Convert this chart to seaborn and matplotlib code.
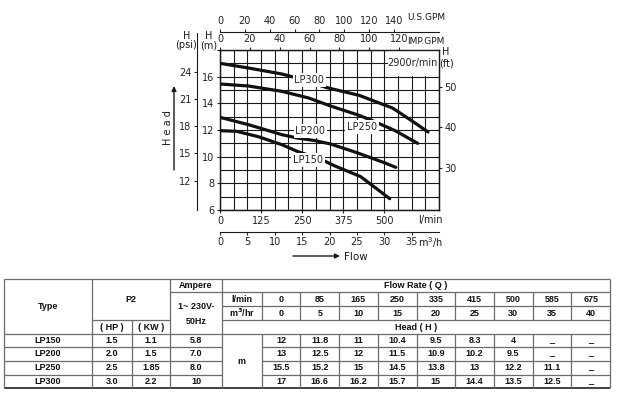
from matplotlib import pyplot as plt
from matplotlib.patches import Rectangle
import numpy as np
import pandas as pd
import seaborn as sns

# ------------------------------------------------
# ----- Curvas (m3/h, m) ----
# ------------------------------------------------
models = ['LP150', 'LP200', 'LP250', 'LP300']
lp150_q = [0, 3, 7, 11.3, 14.1, 18.7, 21, 25.7, 31.0]
lp150_h = [11.95, 11.9, 11.5, 10.9, 10.4, 9.75, 9.3, 8.5, 6.85]
lp200_q = [0, 5.2, 11.3, 14.1, 17.4, 20.2, 25, 30, 32.1]
lp200_h = [12.95, 12.4, 11.65, 11.4, 11.2, 10.95, 10.3, 9.55, 9.2]
lp250_q = [0, 5.2, 11.3, 16.2, 20.2, 25.4, 28.4, 32, 36.1]
lp250_h = [15.45, 15.3, 14.9, 14.4, 13.8, 13.1, 12.6, 11.95, 11.0]
lp300_q = [0, 5.2, 11.3, 14.1, 19.3, 25.4, 31.5, 35, 38.0]
lp300_h = [17.0, 16.65, 16.2, 15.9, 15.2, 14.6, 13.65, 12.7, 11.85]

# posiciones de las etiquetas de cada curva
label_q = [16.1, 16.5, 25.9, 16.3]
label_h = [9.75, 11.93, 12.23, 15.75]

# ejes
lmin_ticks = [0, 125, 250, 375, 500]
m3h_ticks = [0, 5, 10, 15, 20, 25, 30, 35]
usgpm_ticks = [0, 20, 40, 60, 80, 100, 120, 140]
impgpm_ticks = [0, 20, 40, 60, 80, 100, 120]
m_ticks = [6, 8, 10, 12, 14, 16, 18]
psi_ticks = [12, 15, 18, 21, 24]
ft_ticks = [30, 40, 50]

# ------------------------------------------------
# ----- Tabla ------------------------------------
# ------------------------------------------------
tab_lmin = ['0', '85', '165', '250', '335', '415', '500', '585', '675']
tab_m3hr = ['0', '5', '10', '15', '20', '25', '30', '35', '40']
tab_hp = ['1.5', '2.0', '2.5', '3.0']
tab_kw = ['1.1', '1.5', '1.85', '2.2']
tab_amp = ['5.8', '7.0', '8.0', '10']
tab_head = [['12', '11.8', '11', '10.4', '9.5', '8.3', '4', '_', '_'],
            ['13', '12.5', '12', '11.5', '10.9', '10.2', '9.5', '_', '_'],
            ['15.5', '15.2', '15', '14.5', '13.8', '13', '12.2', '11.1', '_'],
            ['17', '16.6', '16.2', '15.7', '15', '14.4', '13.5', '12.5', '_']]

# ------------------------------------------------
# ----- Estilo -----------------------------------
# ------------------------------------------------
sns.set_style('ticks')
plt.rcParams['font.family'] = ['Liberation Sans Narrow', 'DejaVu Sans']
plt.rcParams['xtick.labelsize'] = 7
plt.rcParams['ytick.labelsize'] = 7
plt.rcParams['xtick.major.size'] = 2.5
plt.rcParams['ytick.major.size'] = 2.5
plt.rcParams['xtick.major.pad'] = 1.5
plt.rcParams['ytick.major.pad'] = 1.5
plt.rcParams['xtick.color'] = '#222222'
plt.rcParams['ytick.color'] = '#222222'

W, H = 619, 400
fig = plt.figure(figsize=(W / 100, H / 100), dpi=100)


def px(x, y):
    return x / W, 1 - y / H


# ------------------------------------------------
# ----- Tabla (en coordenadas de pixel) ----------
# ------------------------------------------------
tab = fig.add_axes([0, 0, 1, 1])
tab.set_xlim(0, W)
tab.set_ylim(H, 0)
tab.axis('off')

rows = [279, 292.3, 306, 320, 334, 347.3, 360.7, 375, 388.3]
fc = np.linspace(261.7, 610, 10)
lc = '#6b6b6b'
lw = 0.9


def hline(y, x0, x1, w=lw, c=lc):
    tab.plot([x0, x1], [y, y], color=c, lw=w, solid_capstyle='butt')


def vline(x, y0, y1, w=lw, c=lc):
    tab.plot([x, x], [y0, y1], color=c, lw=w, solid_capstyle='butt')


hline(rows[0], 4, 610)
hline(rows[1], 170, 610)
hline(rows[2], 221.7, 610)
hline(rows[3], 92.3, 170)
hline(rows[3], 221.7, 610)
hline(rows[4], 4, 610)
for y in rows[5:8]:
    hline(y, 4, 221.7)
    hline(y, 261.7, 610)
hline(rows[8], 4, 610, w=1.3, c='#333333')
for x in [4, 92.3, 170, 221.7, 610]:
    vline(x, rows[0], rows[8])
vline(131.7, rows[3], rows[8])
for x in fc[:-1]:
    vline(x, rows[1], rows[3])
    vline(x, rows[4], rows[8])

tk = dict(ha='center', va='center', fontsize=6.5, fontweight='bold',
          family=['Liberation Sans', 'DejaVu Sans'], color='#111111')
tab.text(48, 306.5, 'Type', **tk)
tab.text(131, 299.5, 'P2', **tk)
tab.text(112, 327, '( HP )', **tk)
tab.text(151, 327, '( KW )', **tk)
tab.text(196, 285.7, 'Ampere', **tk)
tab.text(196, 306.7, '1~ 230V-', **tk)
tab.text(196, 321, '50Hz', **tk)
tab.text(416, 285.7, 'Flow Rate ( Q )', **tk)
tab.text(416, 327, 'Head ( H )', **tk)
tab.text(241.7, 299, 'l/min', **tk)
tab.text(241.7, 313, 'm$\\mathbf{^3}$/hr', **tk)
tab.text(241.7, 361, 'm', **tk)
cc = (fc[:-1] + fc[1:]) / 2
for i in range(9):
    tab.text(cc[i], 299, tab_lmin[i], **tk)
    tab.text(cc[i], 313, tab_m3hr[i], **tk)
for r in range(4):
    yc = (rows[4 + r] + rows[5 + r]) / 2
    tab.text(48, yc, models[r], **tk)
    tab.text(112, yc, tab_hp[r], **tk)
    tab.text(151, yc, tab_kw[r], **tk)
    tab.text(196, yc, tab_amp[r], **tk)
    for i in range(9):
        tab.text(cc[i], yc, tab_head[r][i], **tk)

# ------------------------------------------------
# ----- Grafica de curvas ------------------------
# ------------------------------------------------
ax = fig.add_axes([220 / W, 1 - 210 / H, 219 / W, 160 / H])

df = pd.concat([
    pd.DataFrame({'model': 'LP150', 'flow': lp150_q, 'head': lp150_h}),
    pd.DataFrame({'model': 'LP200', 'flow': lp200_q, 'head': lp200_h}),
    pd.DataFrame({'model': 'LP250', 'flow': lp250_q, 'head': lp250_h}),
    pd.DataFrame({'model': 'LP300', 'flow': lp300_q, 'head': lp300_h}),
])
sns.lineplot(data=df, x='flow', y='head', hue='model', palette=['#111111'] * 4,
             legend=False, lw=2.3, ax=ax, zorder=3)

ax.set_xlim(0, 40)
ax.set_ylim(6, 18)
ax.set_xlabel('')
ax.set_ylabel('')
# cuadricula: 2.5 m3/h y 1 m
ax.set_xticks(np.arange(0, 40.1, 2.5))
ax.set_yticks(np.arange(6, 18.1, 1))
ax.tick_params(length=0, labelbottom=False, labelleft=False)
ax.grid(True, color='#1a1a1a', lw=0.8)
for s in ax.spines.values():
    s.set_color('#1a1a1a')
    s.set_linewidth(1.0)

for name, q, h in zip(models, label_q, label_h):
    ax.text(q, h, name, ha='center', va='center', fontsize=7, zorder=5,
            bbox=dict(facecolor='white', edgecolor='none', pad=1.2))

ax.add_patch(Rectangle((30.6, 16.05), 9.35, 1.9, facecolor='white',
                       edgecolor='none', zorder=2.5))
ax.text(35.1, 17.0, '2900r/min', ha='center', va='center', fontsize=7, zorder=5)

# l/min en el borde inferior
lmin = ax.secondary_xaxis('bottom', functions=(lambda x: x * 1000 / 60, lambda x: x * 60 / 1000))
lmin.set_xticks(lmin_ticks)

# H (m) en el borde izquierdo
hm = ax.secondary_yaxis('left')
hm.set_yticks(m_ticks)
hm.set_yticklabels([str(v) for v in m_ticks[:-1]] + [''])

# eje m3/h abajo
m3h = ax.secondary_xaxis(-0.136)
m3h.set_xticks(m3h_ticks)
m3h.spines['bottom'].set_color('#1a1a1a')

# ejes GPM arriba
imp = ax.secondary_xaxis('top', functions=(lambda x: x * 3.666, lambda x: x / 3.666))
imp.set_xticks(impgpm_ticks)
us = ax.secondary_xaxis(1.1125, functions=(lambda x: x * 4.403, lambda x: x / 4.403))
us.set_xticks(usgpm_ticks)
us.spines['top'].set_color('#1a1a1a')

# ejes psi y ft
psi = ax.secondary_yaxis(-0.105, functions=(lambda y: y * 1.465, lambda y: y / 1.465))
psi.set_yticks(psi_ticks)
psi.spines['left'].set_color('#1a1a1a')
psi.spines['left'].set_bounds(6 * 1.465, 19.28 * 1.465)
ft = ax.secondary_yaxis('right', functions=(lambda y: y * 3.281, lambda y: y / 3.281))
ft.set_yticks(ft_ticks)

# ------------------------------------------------
# ----- Textos de ejes ---------------------------
# ------------------------------------------------
tx = dict(ha='center', va='center', fontsize=7, color='#1a1a1a')
fig.text(*px(426, 17), 'U.S.GPM', ha='center', va='center', fontsize=6.5, color='#1a1a1a')
fig.text(*px(426, 41.5), 'IMP.GPM', ha='center', va='center', fontsize=6.5, color='#1a1a1a')
fig.text(*px(187, 36), 'H', **tx)
fig.text(*px(186, 45.5), '(psi)', **tx)
fig.text(*px(209, 36), 'H', **tx)
fig.text(*px(209, 45.5), '(m)', **tx)
fig.text(*px(446, 52), 'H', **tx)
fig.text(*px(447, 63), '(ft)', **tx)
fig.text(*px(430, 220), 'l/min', **tx)
fig.text(*px(430, 243), 'm$^3$/h', **tx)
fig.text(*px(168, 128), 'H e a d', rotation=90, **tx)
fig.text(*px(344, 256.5), 'Flow', ha='left', va='center', fontsize=7.5, color='#1a1a1a')

tab.annotate('', xy=(174, 86), xytext=(174, 170),
             arrowprops=dict(arrowstyle='-|>', color='#1a1a1a', lw=1.0,
                             mutation_scale=7, shrinkA=0, shrinkB=0))
tab.annotate('', xy=(340, 256), xytext=(293, 256),
             arrowprops=dict(arrowstyle='-|>', color='#1a1a1a', lw=1.0,
                             mutation_scale=7, shrinkA=0, shrinkB=0))

plt.savefig('out.png', dpi=100)
